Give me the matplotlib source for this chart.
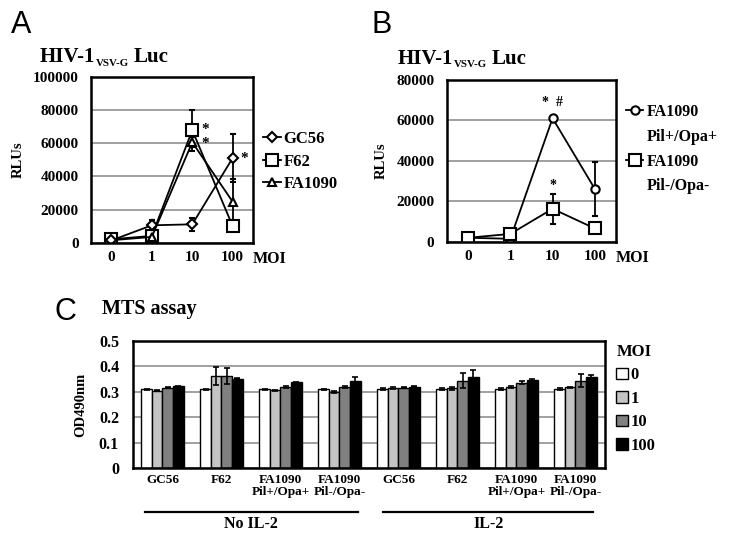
import numpy as np
import matplotlib.pyplot as plt
from matplotlib.lines import Line2D

plt.rcParams['font.family'] = ['Liberation Serif', 'DejaVu Serif']
plt.rcParams['font.weight'] = 'bold'
plt.rcParams['axes.labelweight'] = 'bold'

# panel A data (RLUs)
moi_labels = ['0', '1', '10', '100']
gc56 = [1500, 10600, 11200, 51200]
gc56_err = [400, 3000, 4000, 14500]
f62 = [2200, 4200, 67900, 10000]
f62_err = [400, 800, 12400, 1000]
fa1090 = [1600, 3600, 60600, 24700]
fa1090_err = [400, 800, 3000, 14000]

# panel B data (RLUs)
pil_pos = [2000, 1500, 61000, 26100]
pil_pos_err = [300, 300, 800, 13500]
pil_neg = [2000, 3900, 16300, 6600]
pil_neg_err = [300, 500, 7500, 800]

# panel C data (OD490nm)
strains = ['GC56', 'F62', 'FA1090\nPil+/Opa+', 'FA1090\nPil-/Opa-'] * 2
mts_moi0 = [0.310, 0.310, 0.310, 0.310, 0.311, 0.310, 0.310, 0.310]
mts_moi1 = [0.304, 0.362, 0.306, 0.298, 0.314, 0.313, 0.319, 0.317]
mts_moi10 = [0.316, 0.362, 0.318, 0.318, 0.316, 0.344, 0.336, 0.344]
mts_moi100 = [0.322, 0.352, 0.338, 0.342, 0.320, 0.360, 0.347, 0.360]
err_moi0 = [0.002, 0.002, 0.002, 0.002, 0.003, 0.003, 0.003, 0.003]
err_moi1 = [0.002, 0.035, 0.002, 0.003, 0.003, 0.005, 0.003, 0.003]
err_moi10 = [0.002, 0.030, 0.003, 0.003, 0.002, 0.030, 0.005, 0.025]
err_moi100 = [0.002, 0.003, 0.002, 0.018, 0.002, 0.025, 0.003, 0.005]

fig = plt.figure(figsize=(7.29, 5.41), dpi=100)


def style_line_axes(ax, ymax, step):
    ax.set_xlim(-0.5, 3.5)
    ax.set_ylim(0, ymax)
    ax.set_yticks(np.arange(0, ymax + 1, step))
    ax.set_yticklabels([str(int(v)) for v in np.arange(0, ymax + 1, step)])
    ax.set_xticks(range(4))
    ax.set_xticklabels(moi_labels)
    ax.yaxis.grid(True, color='#999999', linewidth=1.3)
    ax.set_axisbelow(True)
    ax.tick_params(axis='y', length=0, labelsize=11, pad=9)
    ax.tick_params(axis='x', length=0, labelsize=11, pad=6)
    for s in ax.spines.values():
        s.set_linewidth(1.8)
    ax.set_ylabel('RLUs', fontsize=10.5, labelpad=6)
    ax.text(1.0, -0.05, 'MOI', transform=ax.transAxes, fontsize=11.5,
            va='top', ha='left')


def hiv_title(ax, x, y):
    # HIV-1 with a small VSV-G subscript, then Luc
    t1 = ax.text(x, y, 'HIV-1', transform=ax.transAxes, fontsize=15,
                 va='baseline')
    t2 = ax.annotate('VSV-G', xy=(1, 0), xycoords=t1, xytext=(0.5, -0.5),
                     textcoords='offset points', fontsize=7.8, va='bottom')
    ax.annotate('Luc', xy=(1, 0), xycoords=(t2, t1), xytext=(3.5, 0),
                textcoords='offset points', fontsize=15, va='bottom')


mk = dict(color='black', markerfacecolor='white', markeredgecolor='black',
          linewidth=1.3, markeredgewidth=1.5, capsize=2.5, elinewidth=1.3,
          capthick=1.3)

# ---- panel A ----
axA = fig.add_axes([0.125, 0.551, 0.222, 0.307])
x = np.arange(4)
axA.errorbar(x, f62, yerr=f62_err, marker='s', markersize=8, label='F62', **mk)
axA.errorbar(x, fa1090, yerr=fa1090_err, marker='^', markersize=6, label='FA1090', **mk)
axA.errorbar(x, gc56, yerr=gc56_err, marker='D', markersize=5, label='GC56', **mk)
style_line_axes(axA, 100000, 20000)
axA.text(2.22, 68000, '*', fontsize=11, va='center')
axA.text(2.22, 60000, '*', fontsize=11, va='center')
axA.text(3.2, 51000, '*', fontsize=11, va='center')
h, l = axA.get_legend_handles_labels()
order = [2, 0, 1]
axA.legend([h[i][0] for i in order], [l[i] for i in order],
           loc='center left', bbox_to_anchor=(1.02, 0.49), frameon=False,
           fontsize=12, handlelength=1.1, handletextpad=0.15,
           labelspacing=0.4, borderaxespad=0)
hiv_title(axA, -0.32, 1.09)
fig.text(0.015, 0.953, 'A', fontsize=22, family='Liberation Sans',
         weight='normal', va='center')

# ---- panel B ----
axB = fig.add_axes([0.613, 0.553, 0.232, 0.2995])
axB.errorbar(x, pil_pos, yerr=pil_pos_err, marker='o', markersize=6, **mk)
axB.errorbar(x, pil_neg, yerr=pil_neg_err, marker='s', markersize=8, **mk)
style_line_axes(axB, 80000, 20000)
axB.text(2, 69000, '*  #', fontsize=10, ha='center', va='center')
axB.text(2, 28000, '*', fontsize=10, ha='center', va='center')
blank = Line2D([], [], linestyle='none')
hb = [Line2D([], [], color='black', marker='o', markersize=6,
             markerfacecolor='white', markeredgewidth=1.5, linewidth=1.3),
      blank,
      Line2D([], [], color='black', marker='s', markersize=8,
             markerfacecolor='white', markeredgewidth=1.5, linewidth=1.3),
      blank]
axB.legend(hb, ['FA1090', 'Pil+/Opa+', 'FA1090', 'Pil-/Opa-'],
           loc='upper left', bbox_to_anchor=(1.02, 0.89), frameon=False,
           fontsize=11.5, handlelength=1.1, handletextpad=0.2,
           labelspacing=0.55, borderaxespad=0)
hiv_title(axB, -0.29, 1.10)
fig.text(0.51, 0.953, 'B', fontsize=22, family='Liberation Sans',
         weight='normal', va='center')

# ---- panel C ----
axC = fig.add_axes([0.1824, 0.135, 0.6475, 0.2348])
xc = np.arange(len(strains))
w = 0.18
series = [(mts_moi0, err_moi0, 'white', '0'),
          (mts_moi1, err_moi1, '#c4c4c4', '1'),
          (mts_moi10, err_moi10, '#808080', '10'),
          (mts_moi100, err_moi100, 'black', '100')]
for i, (vals, errs, col, lab) in enumerate(series):
    axC.bar(xc + (i - 1.5) * w, vals, w, yerr=errs, color=col,
            edgecolor='black', linewidth=1.0, label=lab,
            error_kw=dict(ecolor='black', elinewidth=1.2, capsize=2.5,
                          capthick=1.2))
axC.set_xlim(-0.5, 7.5)
axC.set_ylim(0, 0.5)
axC.set_yticks(np.arange(0, 0.51, 0.1))
axC.set_yticklabels(['0', '0.1', '0.2', '0.3', '0.4', '0.5'])
axC.set_xticks(xc)
axC.set_xticklabels(strains, fontsize=9.5, linespacing=1.0)
axC.yaxis.grid(True, color='#999999', linewidth=1.3)
axC.set_axisbelow(True)
axC.tick_params(axis='y', length=0, labelsize=11.5, pad=10)
axC.tick_params(axis='x', length=0, pad=4)
for s in axC.spines.values():
    s.set_linewidth(1.8)
axC.set_ylabel('OD490nm', fontsize=10.5, labelpad=8)
leg = axC.legend(title='MOI', loc='upper left', bbox_to_anchor=(1.01, 1.03),
                 frameon=False, fontsize=12, title_fontsize=12,
                 handlelength=0.7, handleheight=0.7, handletextpad=0.15,
                 labelspacing=0.45, borderaxespad=0)
leg._legend_box.align = 'left'
tr = axC.get_xaxis_transform()
axC.plot([-0.3, 3.31], [-0.345, -0.345], color='black', linewidth=1.6,
         transform=tr, clip_on=False)
axC.plot([3.74, 7.3], [-0.345, -0.345], color='black', linewidth=1.6,
         transform=tr, clip_on=False)
axC.text(1.5, -0.38, 'No IL-2', transform=tr, fontsize=11.5, ha='center', va='top')
axC.text(5.52, -0.38, 'IL-2', transform=tr, fontsize=11.5, ha='center', va='top')
axC.text(-0.065, 1.17, 'MTS assay', transform=axC.transAxes, fontsize=14.5,
         va='bottom')
fig.text(0.075, 0.423, 'C', fontsize=22, family='Liberation Sans',
         weight='normal', va='center')

fig.savefig('out.png', dpi=100)
